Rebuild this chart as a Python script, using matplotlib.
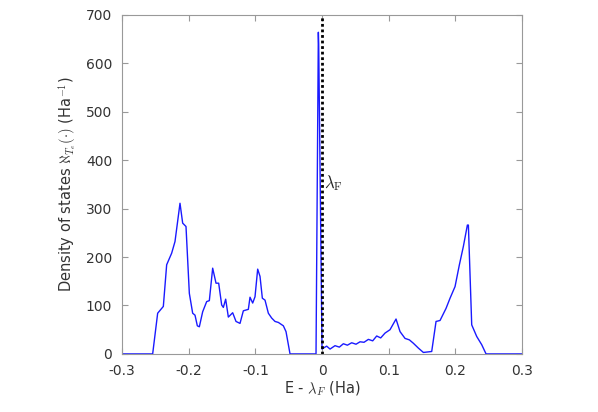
import matplotlib
matplotlib.use('Agg')
import matplotlib.pyplot as plt
import numpy as np

# Density of states (energy relative to Fermi level, Ha)
energy = [-0.3, -0.254, -0.2465, -0.238, -0.233, -0.2255, -0.2205, -0.213, -0.209, -0.204,
          -0.199, -0.194, -0.1905, -0.187, -0.184, -0.179, -0.173, -0.169, -0.164, -0.159,
          -0.155, -0.1505, -0.148, -0.1445, -0.1405, -0.134, -0.129, -0.123, -0.118, -0.1105,
          -0.108, -0.104, -0.1005, -0.0965, -0.093, -0.0895, -0.0855, -0.0805, -0.0755, -0.0705,
          -0.0655, -0.058, -0.054, -0.048, -0.009, -0.0055, -0.005, 0.0, 0.002, 0.007,
          0.012, 0.0195, 0.026, 0.032, 0.038, 0.0445, 0.051, 0.057, 0.063, 0.0695,
          0.076, 0.082, 0.088, 0.0945, 0.102, 0.111, 0.117, 0.1245, 0.131, 0.137,
          0.1445, 0.152, 0.1645, 0.171, 0.177, 0.186, 0.192, 0.1995, 0.206, 0.212,
          0.218, 0.2195, 0.2245, 0.232, 0.2395, 0.246, 0.3]
dos = [0, 0, 84, 98, 184, 208, 232, 311, 270, 263,
       125, 84, 80, 58, 56, 87, 108, 110, 177, 146,
       146, 101, 96, 113, 76, 85, 67, 63, 89, 92,
       117, 105, 118, 175, 160, 115, 111, 84, 74, 67,
       65, 58, 46, 0, 0, 664, 640, 10, 12, 16,
       10, 17, 14, 21, 18, 23, 20, 25, 24, 30,
       27, 37, 33, 43, 50, 72, 46, 32, 29, 22,
       12, 3, 5, 67, 69, 94, 115, 139, 184, 222,
       266, 266, 60, 36, 19, 0, 0]

xticks = [-0.3, -0.2, -0.1, 0, 0.1, 0.2, 0.3]
xticklabels = ['-0.3', '-0.2', '-0.1', '0', '0.1', '0.2', '0.3']
yticks = [0, 100, 200, 300, 400, 500, 600, 700]

plt.rcParams['mathtext.fontset'] = 'cm'

fig = plt.figure(figsize=(5.98, 4.12), dpi=100)
ax = fig.add_axes([0.204, 0.141, 0.669, 0.823])

ax.plot(energy, dos, color='#1a1aff', linewidth=1.0)
ax.plot([0, 0], [0, 700], color='black', linewidth=2.0, linestyle=(0, (1, 1)))
ax.text(0.003, 352, r'$\lambda_{\mathrm{F}}$', fontsize=12, color='#222222', va='center')

ax.set_xlim(-0.3, 0.3)
ax.set_ylim(0, 700)
ax.set_xticks(xticks)
ax.set_xticklabels(xticklabels)
ax.set_yticks(yticks)

for s in ax.spines.values():
    s.set_color('#999999')
ax.tick_params(direction='in', top=True, right=True, color='#999999',
               labelsize=10, labelcolor='#333333', length=4)
ax.tick_params(axis='x', pad=7)
ax.tick_params(axis='y', pad=7)

ax.set_xlabel(r'E - $\lambda_F$ (Ha)', fontsize=10.5, color='#333333', labelpad=1)
ax.set_ylabel(r'Density of states $\aleph_{T_e}(\cdot)$ (Ha$^{-1}$)', fontsize=10.5,
              color='#333333', labelpad=5)

fig.savefig('out.png', dpi=100)
